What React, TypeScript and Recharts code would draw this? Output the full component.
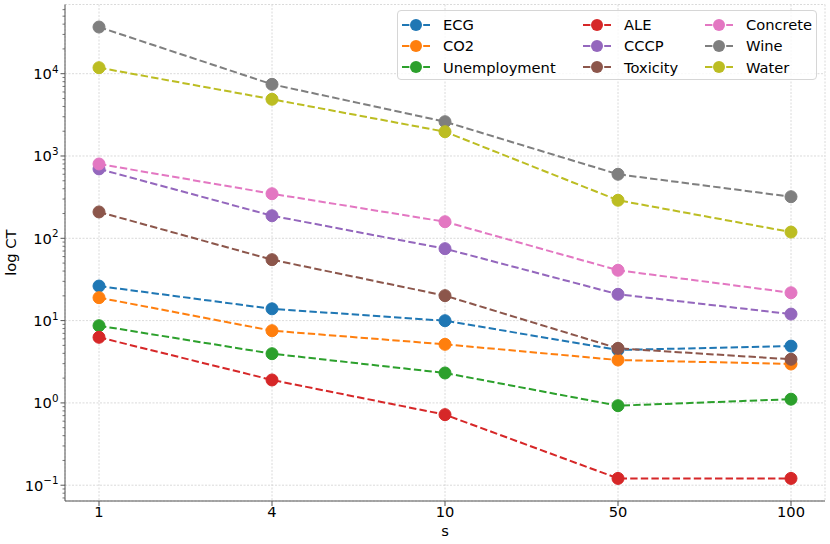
import React from "react";
import {
  LineChart,
  Line,
  XAxis,
  YAxis,
  CartesianGrid,
  Legend,
} from "recharts";

const sValues = ["1", "4", "10", "50", "100"];

const ecg = [26.3, 13.9, 9.97, 4.4, 4.9];
const co2 = [19.0, 7.54, 5.15, 3.32, 2.97];
const unemployment = [8.67, 3.96, 2.31, 0.925, 1.11];
const ale = [6.27, 1.9, 0.72, 0.121, 0.121];
const cccp = [697, 188, 74.8, 20.9, 12.0];
const toxicity = [209, 55, 20.1, 4.6, 3.39];
const concrete = [800, 348, 159, 40.9, 21.8];
const wine = [36900, 7430, 2610, 600, 320];
const water = [11830, 4890, 1973, 290, 119];

const majorTicks = [0.1, 1, 10, 100, 1000, 10000];
const yDomain = [0.0643, 69300];

const SERIES = [
  { key: "ECG", values: ecg, color: "#1f77b4" },
  { key: "CO2", values: co2, color: "#ff7f0e" },
  { key: "Unemployment", values: unemployment, color: "#2ca02c" },
  { key: "ALE", values: ale, color: "#d62728" },
  { key: "CCCP", values: cccp, color: "#9467bd" },
  { key: "Toxicity", values: toxicity, color: "#8c564b" },
  { key: "Concrete", values: concrete, color: "#e377c2" },
  { key: "Wine", values: wine, color: "#7f7f7f" },
  { key: "Water", values: water, color: "#bcbd22" },
];

// minor log ticks (2..9 x each decade) inside the domain
const minorTicks = [0.01, 0.1, 1, 10, 100, 1000, 10000]
  .flatMap((d) => [2, 3, 4, 5, 6, 7, 8, 9].map((m) => +(m * d).toPrecision(3)))
  .filter((v) => v >= yDomain[0] && v <= yDomain[1]);
const allTicks = [...majorTicks, ...minorTicks].sort((a, b) => a - b);

const data = sValues.map((s, i) => {
  const row: Record<string, number | string> = { s };
  SERIES.forEach((ser) => {
    row[ser.key] = ser.values[i];
  });
  return row;
});

const FONT = "'DejaVu Sans', sans-serif";
const AXIS = "#555";
const FS = 14.67;

const LogTick = (props: any) => {
  const { x, y, payload } = props;
  const v = payload.value as number;
  const exp = Math.round(Math.log10(v));
  const isMajor = Math.abs(Math.log10(v) - exp) < 1e-6;
  if (!isMajor) {
    return <line x1={x - 2.5} x2={x} y1={y} y2={y} stroke={AXIS} strokeWidth={0.8} />;
  }
  const expText = exp < 0 ? "\u2212" + Math.abs(exp) : String(exp);
  return (
    <g>
      <line x1={x - 4.5} x2={x} y1={y} y2={y} stroke={AXIS} strokeWidth={1} />
      <text x={x - 6.5} y={y + 5.4} textAnchor="end" fill="#000" fontSize={FS} fontFamily={FONT}>
        10
        <tspan dy={-6.5} fontSize={10.3}>
          {expText}
        </tspan>
      </text>
    </g>
  );
};

const LegendBox = () => (
  <div
    style={{
      boxSizing: "border-box",
      width: 420,
      height: 70,
      border: "1px solid #d6d6d6",
      borderRadius: 4,
      background: "rgba(255,255,255,0.8)",
      padding: "3px 0 0 4px",
      display: "grid",
      gridAutoFlow: "column",
      gridTemplateRows: "repeat(3, 21.3px)",
      gridTemplateColumns: "181px 122px 110px",
      fontFamily: FONT,
      fontSize: FS,
      color: "#000",
    }}
  >
    {SERIES.map((ser) => (
      <div key={ser.key} style={{ display: "flex", alignItems: "center", whiteSpace: "nowrap" }}>
        <svg width={28} height={14} style={{ marginRight: 13, flexShrink: 0 }}>
          <line x1={0} x2={28} y1={7} y2={7} stroke={ser.color} strokeWidth={2} strokeDasharray="7.4 3.2" />
          <circle cx={14} cy={7} r={6} fill={ser.color} />
        </svg>
        <span>{ser.key}</span>
      </div>
    ))}
  </div>
);

export default function App() {
  return (
    <div style={{ position: "absolute", left: 0, top: 0, width: 830, height: 544, background: "#fff", fontFamily: FONT }}>
      <LineChart width={830} height={544} data={data} margin={{ top: 4.5, right: 5, left: 0, bottom: 0 }}>
        <CartesianGrid yAxisId="grid" stroke="#d0d0d0" strokeDasharray="2 1.5" strokeWidth={0.8} />
        <XAxis
          dataKey="s"
          padding={{ left: 34, right: 34 }}
          height={43}
          tickSize={5}
          tickMargin={1}
          stroke={AXIS}
          tickLine={{ stroke: AXIS }}
          axisLine={{ stroke: AXIS }}
          tick={{ fill: "#000", fontSize: FS, fontFamily: FONT }}
          label={{ value: "s", position: "insideBottom", offset: 8, fill: "#000", fontSize: FS, fontFamily: FONT }}
        />
        <XAxis xAxisId="top" dataKey="s" orientation="top" height={0} tick={false} tickLine={false} axisLine={{ stroke: AXIS }} />
        <YAxis
          yAxisId="left"
          scale="log"
          domain={yDomain}
          allowDataOverflow
          ticks={allTicks}
          interval={0}
          width={65}
          tickSize={0}
          tickMargin={0}
          tickLine={false}
          axisLine={{ stroke: AXIS }}
          tick={<LogTick />}
          label={{
            value: "log CT",
            angle: -90,
            position: "insideLeft",
            offset: 11,
            fill: "#000",
            fontSize: FS,
            fontFamily: FONT,
            style: { textAnchor: "middle" },
          }}
        />
        <YAxis
          yAxisId="right"
          orientation="right"
          scale="log"
          domain={yDomain}
          allowDataOverflow
          width={0}
          tick={false}
          tickLine={false}
          axisLine={{ stroke: AXIS }}
        />
        <YAxis
          yAxisId="grid"
          orientation="right"
          scale="log"
          domain={yDomain}
          allowDataOverflow
          ticks={majorTicks}
          width={0}
          hide
        />
        <Legend
          layout="horizontal"
          verticalAlign="middle"
          align="center"
          content={() => <LegendBox />}
          wrapperStyle={{ top: 10, left: 397, width: 420, height: 70 }}
        />
        {SERIES.map((ser) => (
          <Line
            key={ser.key}
            yAxisId="left"
            type="linear"
            dataKey={ser.key}
            stroke={ser.color}
            strokeWidth={2}
            strokeDasharray="7.4 3.2"
            dot={{ r: 6, fill: ser.color, stroke: ser.color, strokeWidth: 1, strokeDasharray: "" }}
            activeDot={false}
            isAnimationActive={false}
          />
        ))}
      </LineChart>
    </div>
  );
}
